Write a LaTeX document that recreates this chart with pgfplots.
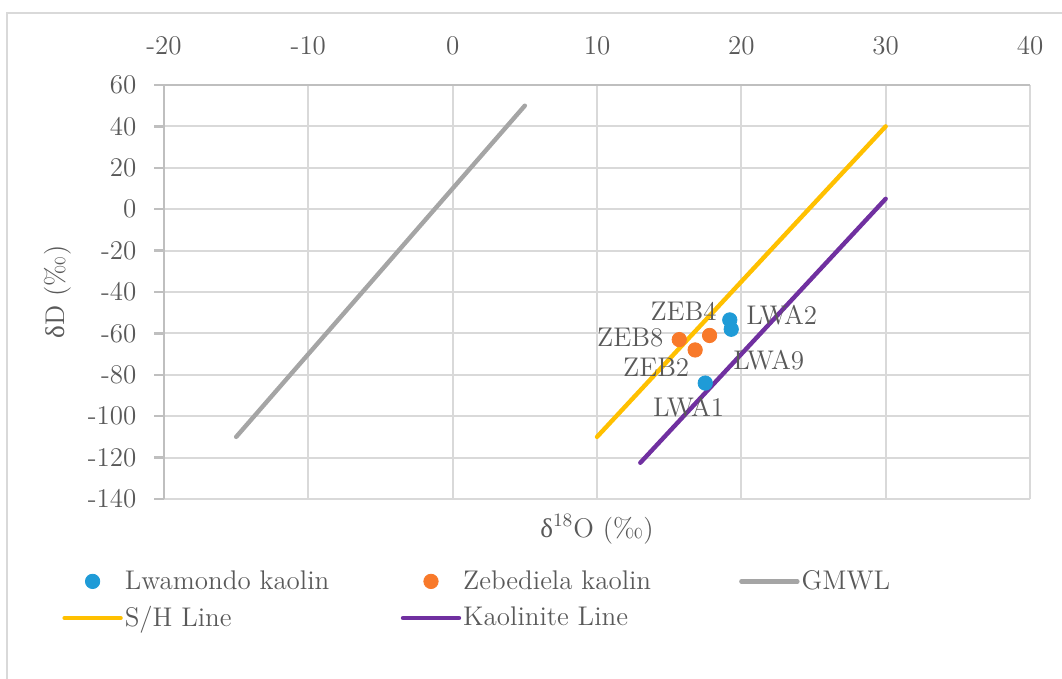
\documentclass[border=0pt]{standalone}
\usepackage{fontspec}
\newfontfamily\grk{Liberation Serif}
\usepackage{pgfplots}
\pgfplotsset{compat=1.18}
\definecolor{txt}{HTML}{595959}
\definecolor{gridc}{HTML}{D9D9D9}
\definecolor{axc}{HTML}{BFBFBF}
\definecolor{lwa}{HTML}{1F9BD7}
\definecolor{zeb}{HTML}{F8792A}
\definecolor{gmwl}{HTML}{A5A5A5}
\definecolor{sh}{HTML}{FFC000}
\definecolor{kao}{HTML}{7030A0}
\newcommand{\dl}{{\grk δ}}
\begin{document}
\begin{tikzpicture}[font=\fontsize{13.5}{16}\selectfont]
\useasboundingbox (0,0) rectangle (531pt,339.5pt);
\draw[gridc, line width=0.75pt] (3.5pt,-5pt) -- (3.5pt,333pt) -- (540pt,333pt);
\begin{axis}[
 at={(82pt,90pt)}, anchor=south west, width=433pt, height=207pt, scale only axis,
 xmin=-20, xmax=40, ymin=-140, ymax=60,
 xtick={-20,-10,...,40}, ytick={-140,-120,...,60},
 axis x line=top, axis y line=left, axis line style={-, axc, line width=1.2pt},
 grid=major, major grid style={gridc, line width=1pt},
 tick align=outside, major tick length=4.8pt,
 xtick style={draw=none}, ytick style={axc, line width=1.2pt},
 tick label style={txt, font=\fontsize{13.5}{16}\selectfont},
 /pgf/number format/assume math mode=true,
 xticklabel style={yshift=6.7pt},
 yticklabel style={xshift=-5.5pt},
 ylabel={\dl D (‰)},
 ylabel style={txt, font=\fontsize{13.5}{16}\selectfont, yshift=1.5pt},
 xlabel={\dl\textsuperscript{18}O (‰)},
 xlabel style={txt, font=\fontsize{13.5}{16}\selectfont, at={(axis description cs:0.5,0)}, anchor=north, yshift=-4pt},
 legend columns=3,
 legend cell align=left,
 legend image code/.code={\draw[mark repeat=2,mark phase=2,#1] plot coordinates {(0pt,0pt) (14pt,0pt) (28pt,0pt)};},
 legend style={at={(axis description cs:0,0)}, anchor=north west, xshift=-51pt, yshift=-34.5pt,
   draw=none, fill=none, inner sep=0pt, text=txt, font=\fontsize{13.5}{16}\selectfont,
   nodes={inner sep=1pt}, /tikz/column sep=0pt, /tikz/row sep=5pt},
]
\addplot[only marks, mark=*, mark size=3.6pt, color=lwa, mark options={draw=lwa, fill=lwa}] coordinates {
 (19.2,-53.5) (19.3,-58) (17.5,-84)
};
\addlegendentry{\makebox[137pt][l]{Lwamondo kaolin}}
\addplot[only marks, mark=*, mark size=3.6pt, color=zeb, mark options={draw=zeb, fill=zeb}] coordinates {
 (15.7,-63) (17.8,-61) (16.8,-68)
};
\addlegendentry{\makebox[137pt][l]{Zebediela kaolin}}
\addplot[gmwl, line width=2.2pt, line cap=round] coordinates {(-15,-110) (5,50)};
\addlegendentry{GMWL}
\addplot[sh, line width=2.2pt, line cap=round] coordinates {(10,-110) (30,40)};
\addlegendentry{\makebox[137pt][l]{S/H Line}}
\addplot[kao, line width=2.2pt, line cap=round] coordinates {(13,-122.5) (30,5)};
\addlegendentry{\makebox[137pt][l]{Kaolinite Line}}
\begin{scope}[txt, font=\fontsize{13.5}{16}\selectfont]
\node at (axis cs:16.0,-49.2) {ZEB4};
\node at (axis cs:22.8,-51.1) {LWA2};
\node at (axis cs:12.3,-62.2) {ZEB8};
\node at (axis cs:21.9,-72.9) {LWA9};
\node at (axis cs:14.1,-76.2) {ZEB2};
\node at (axis cs:16.35,-95.6) {LWA1};
\end{scope}
\end{axis}
\end{tikzpicture}
\end{document}
